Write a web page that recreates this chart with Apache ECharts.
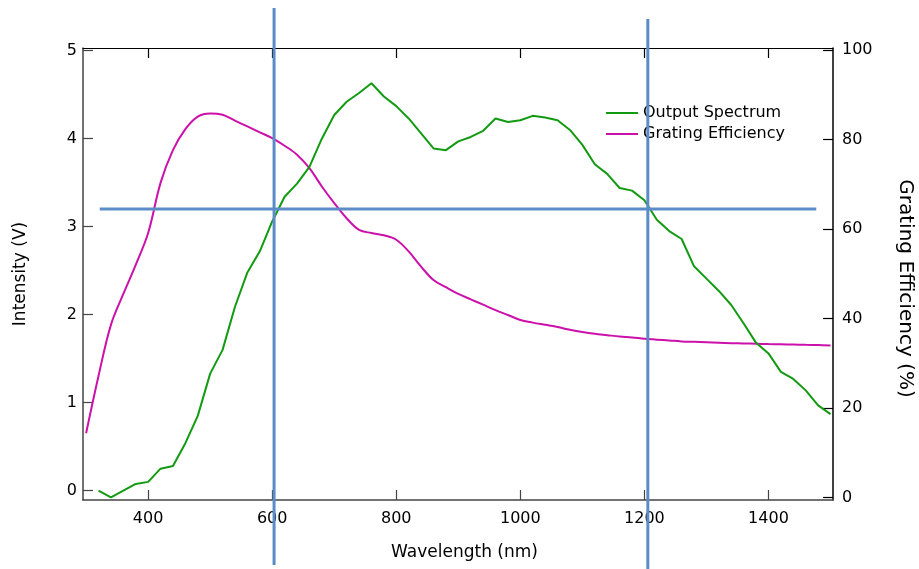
<!DOCTYPE html>
<html><head><meta charset="utf-8">
<script src="https://cdn.jsdelivr.net/npm/echarts@6/dist/echarts.min.js"></script>
<style>html,body{margin:0;padding:0;background:#fff}#c{width:919px;height:569px}</style>
</head><body><div id="c"></div>
<script>
const spectrumWavelength = [320,340,360,380,400,420,440,460,480,500,520,540,560,580,600,620,640,660,680,700,720,740,760,780,800,820,840,860,880,900,920,940,960,980,1000,1020,1040,1060,1080,1100,1120,1140,1160,1180,1200,1220,1240,1260,1280,1300,1320,1340,1360,1380,1400,1420,1440,1460,1480,1500];
const spectrumIntensity = [0.00,-0.075,0.00,0.076,0.10,0.25,0.28,0.54,0.85,1.33,1.60,2.09,2.48,2.72,3.06,3.34,3.49,3.68,4.00,4.27,4.42,4.52,4.63,4.48,4.37,4.23,4.06,3.89,3.87,3.97,4.02,4.09,4.23,4.19,4.21,4.26,4.24,4.21,4.10,3.93,3.71,3.60,3.44,3.41,3.30,3.08,2.95,2.86,2.55,2.41,2.27,2.11,1.90,1.68,1.56,1.35,1.27,1.14,0.97,0.87];
const efficiencyWavelength = [300,320,340,360,380,400,420,440,460,480,500,520,540,560,580,600,620,640,660,680,700,720,740,760,780,800,820,840,860,880,900,920,940,960,980,1000,1020,1040,1060,1080,1100,1120,1140,1160,1180,1200,1220,1240,1260,1280,1300,1320,1340,1360,1380,1400,1420,1440,1460,1480,1500];
const efficiencyPercent = [14.4,27.2,38.6,45.5,52.0,59.1,70.3,77.6,82.3,85.1,85.8,85.5,84.2,82.9,81.6,80.3,78.6,76.6,73.6,69.5,65.8,62.4,59.8,59.1,58.6,57.6,55.0,51.6,48.6,47.0,45.5,44.3,43.1,41.9,40.8,39.7,39.1,38.6,38.1,37.5,37.0,36.6,36.3,36.0,35.8,35.5,35.3,35.1,34.9,34.8,34.7,34.6,34.5,34.45,34.4,34.3,34.25,34.2,34.15,34.1,34.0];
const xTickValues = [400,600,800,1000,1200,1400];
const leftTickValues = [0,1,2,3,4,5];
const rightTickValues = [0,20,40,60,80,100];
const cursorWavelengths = [603, 1205.5];
const cursorSpans = [[5.485,-0.844],[5.36,-0.95]];
const cursorIntensity = 3.2;
const cursorHSpan = [322, 1477];

const FONT = 'DejaVu Sans';
const GREEN = '#129a12', MAGENTA = '#cc10aa', BLUE = '#5b8cc8';
const chart = echarts.init(document.getElementById('c'), null, {renderer:'canvas'});
const zip = (xs, ys) => xs.map((x,i)=>[x, ys[i]]);
const plain = v => String(v);
const cursorSeries = [];
cursorWavelengths.forEach((w,i)=>{
  cursorSeries.push({type:'line', xAxisIndex:0, yAxisIndex:0, clip:false, silent:true, symbol:'none', z:10,
    data:[[w,cursorSpans[i][0]],[w,cursorSpans[i][1]]], lineStyle:{color:BLUE,width:3}});
});
cursorSeries.push({type:'line', xAxisIndex:0, yAxisIndex:0, clip:false, silent:true, symbol:'none', z:10,
  data:[[cursorHSpan[0],cursorIntensity],[cursorHSpan[1],cursorIntensity]], lineStyle:{color:BLUE,width:3}});

const xBase = {type:'value', min:295, max:1504, splitLine:{show:false}};
chart.setOption({
  animation:false,
  backgroundColor:'#fff',
  grid:{left:83, right:86, top:48, bottom:69, containLabel:false, outerBoundsMode:'none'},
  legend:{data:['Output Spectrum','Grating Efficiency'], orient:'vertical', left:601, top:100, icon:'rect', itemWidth:32, itemHeight:2, itemGap:5, z:4,
    textStyle:{fontFamily:FONT, fontSize:16, color:'#000', lineHeight:16}},
  xAxis:[
    Object.assign({}, xBase, {position:'bottom',
      name:'Wavelength (nm)', nameLocation:'middle', nameGap:44,
      nameTextStyle:{fontFamily:FONT, fontSize:17, color:'#000', padding:[0,0,0,13]},
      axisLine:{show:true, onZero:false, lineStyle:{color:'#444', width:1.5}},
      axisTick:{show:true, inside:true, length:10, customValues:xTickValues, lineStyle:{color:'#444', width:1.2}},
      axisLabel:{show:true, margin:11, customValues:xTickValues, formatter:plain, fontFamily:FONT, fontSize:16, color:'#000'}}),
    Object.assign({}, xBase, {position:'top',
      axisLine:{show:true, onZero:false, lineStyle:{color:'#000', width:1.2}},
      axisTick:{show:true, inside:true, length:10, customValues:xTickValues, lineStyle:{color:'#000', width:1.2}},
      axisLabel:{show:false}})
  ],
  yAxis:[
    {type:'value', position:'left', min:-0.106, max:5.031, splitLine:{show:false},
      name:'Intensity (V)', nameLocation:'middle', nameGap:54,
      nameTextStyle:{fontFamily:FONT, fontSize:17, color:'#000'},
      axisLine:{show:true, onZero:false, lineStyle:{color:'#444', width:1.5}},
      axisTick:{show:true, inside:true, length:10, customValues:leftTickValues, lineStyle:{color:'#444', width:1.2}},
      axisLabel:{show:true, margin:6, customValues:leftTickValues, formatter:plain, fontFamily:FONT, fontSize:16, color:'#000'}},
    {type:'value', position:'right', min:-0.51, max:100.42, splitLine:{show:false},
      name:'Grating Efficiency (%)', nameLocation:'middle', nameGap:62, nameRotate:-90,
      nameTextStyle:{fontFamily:FONT, fontSize:20, color:'#000', padding:[0,0,0,29]},
      axisLine:{show:true, onZero:false, lineStyle:{color:'#000', width:1.5}},
      axisTick:{show:true, inside:true, length:10, customValues:rightTickValues, lineStyle:{color:'#000', width:1.2}},
      axisLabel:{show:true, margin:9, customValues:rightTickValues, formatter:plain, fontFamily:FONT, fontSize:16, color:'#000'}}
  ],
  series:[
    {name:'Grating Efficiency', type:'line', xAxisIndex:0, yAxisIndex:1, data:zip(efficiencyWavelength, efficiencyPercent),
      symbol:'none', smooth:0.35, lineStyle:{color:MAGENTA, width:2}, itemStyle:{color:MAGENTA}, z:3},
    {name:'Output Spectrum', type:'line', xAxisIndex:0, yAxisIndex:0, data:zip(spectrumWavelength, spectrumIntensity),
      symbol:'none', lineStyle:{color:GREEN, width:2}, itemStyle:{color:GREEN}, z:3}
  ].concat(cursorSeries)
});
</script></body></html>
